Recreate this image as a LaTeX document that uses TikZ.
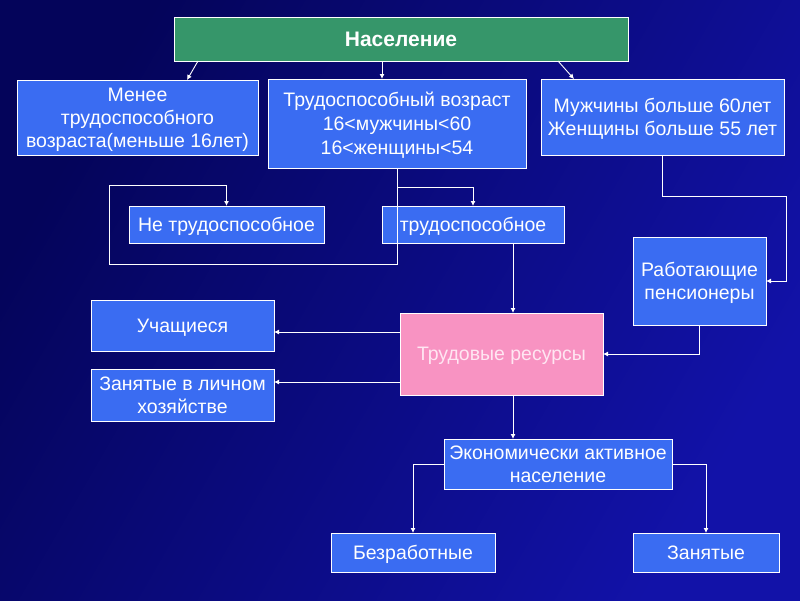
\documentclass[tikz,border=0pt]{standalone}
\usepackage{fontspec}
\setmainfont{Liberation Sans}
\usetikzlibrary{arrows.meta,calc}
\definecolor{bgA}{HTML}{04045A}
\definecolor{bgB}{HTML}{1212A8}
\definecolor{boxblue}{HTML}{3A6CF2}
\definecolor{boxgreen}{HTML}{36966A}
\definecolor{boxpink}{HTML}{F893C2}
\definecolor{pinktext}{HTML}{FFE6F2}
\tikzset{
  box/.style={draw=white, line width=0.9pt, fill=boxblue, text=white, inner sep=0pt, outer sep=0pt,
    align=center, text depth=0pt, font=\fontsize{19.5}{23}\selectfont},
  conn/.style={draw=white, line width=0.9pt},
  arr/.style={conn, -{Latex[length=5pt,width=5pt]}}
}
\begin{document}
\begin{tikzpicture}[x=1pt,y=-1pt]
\useasboundingbox (0,0) rectangle (800,600);
\shade[shading=axis, left color=bgA, right color=bgB, shading angle=60] (0,0) rectangle (800,600);
% nodes
\node[box, fill=boxgreen, font=\fontsize{21}{24}\selectfont\bfseries, minimum width=454, minimum height=44] (nas) at (401,39) {Население};
\node[box, minimum width=241, minimum height=75] (menee) at (137.5,117.5) {Менее\\трудоспособного\\возраста(меньше 16лет)};
\node[box, font=\fontsize{19.5}{24}\selectfont, minimum width=258, minimum height=89] (trud) at (397,123.5) {Трудоспособный возраст\\16<мужчины<60\\16<женщины<54};
\node[box, minimum width=243, minimum height=76] (muzh) at (662.5,117) {Мужчины больше 60лет\\Женщины больше 55 лет};
\node[box, minimum width=195, minimum height=37] (netr) at (226.5,224.5) {Не трудоспособное};
\node[box, minimum width=182, minimum height=37] (trsp) at (473,224.5) {трудоспособное};
\node[box, minimum width=133, minimum height=88] (rab) at (699.5,281) {Работающие\\пенсионеры};
\node[box, fill=boxpink, text=pinktext, minimum width=203, minimum height=82] (tres) at (501.5,354) {Трудовые ресурсы};
\node[box, minimum width=183, minimum height=51] (uch) at (182.5,325.5) {Учащиеся};
\node[box, minimum width=183, minimum height=52] (zan) at (182.5,395) {Занятые в личном\\хозяйстве};
\node[box, minimum width=228, minimum height=50] (econ) at (558,464) {Экономически активное\\население};
\node[box, minimum width=164, minimum height=39] (bez) at (413,552.5) {Безработные};
\node[box, minimum width=146, minimum height=39] (zanyat) at (706,552.5) {Занятые};
% connectors
\draw[arr] ($(nas.south west)+(24,0)$) -- ($(menee.north west)+(170,0)$);
\draw[arr] ($(nas.south west)+(208,0)$) -- ($(trud.north)+(-15,0)$);
\draw[arr] ($(nas.south west)+(384,0)$) -- ($(muzh.north west)+(33,0)$);
\coordinate (loopA) at (109,264);
\coordinate (loopB) at (109,185);
\draw[arr] (trud.south) |- (loopA) -- (loopB) -| (netr.north);
\draw[arr] (trud.south |- 0,187) -| (trsp.north);
\draw[arr] ($(trsp.south)+(40,0)$) -- ($(tres.north)+(11.5,0)$);
\coordinate (rcorner) at (786,196);
\draw[arr] (muzh.south) |- (rcorner) |- (rab.east);
\draw[arr] (rab.south) |- (tres.east);
\draw[arr] (tres.west |- 0,332) -- (uch.east |- 0,332);
\draw[arr] (tres.west |- 0,382) -- (zan.east |- 0,382);
\draw[arr] ($(tres.south)+(11.5,0)$) -- ($(econ.north)+(-45,0)$);
\draw[arr] (econ.west) -| (bez.north);
\draw[arr] (econ.east) -| (zanyat.north);
\end{tikzpicture}
\end{document}
